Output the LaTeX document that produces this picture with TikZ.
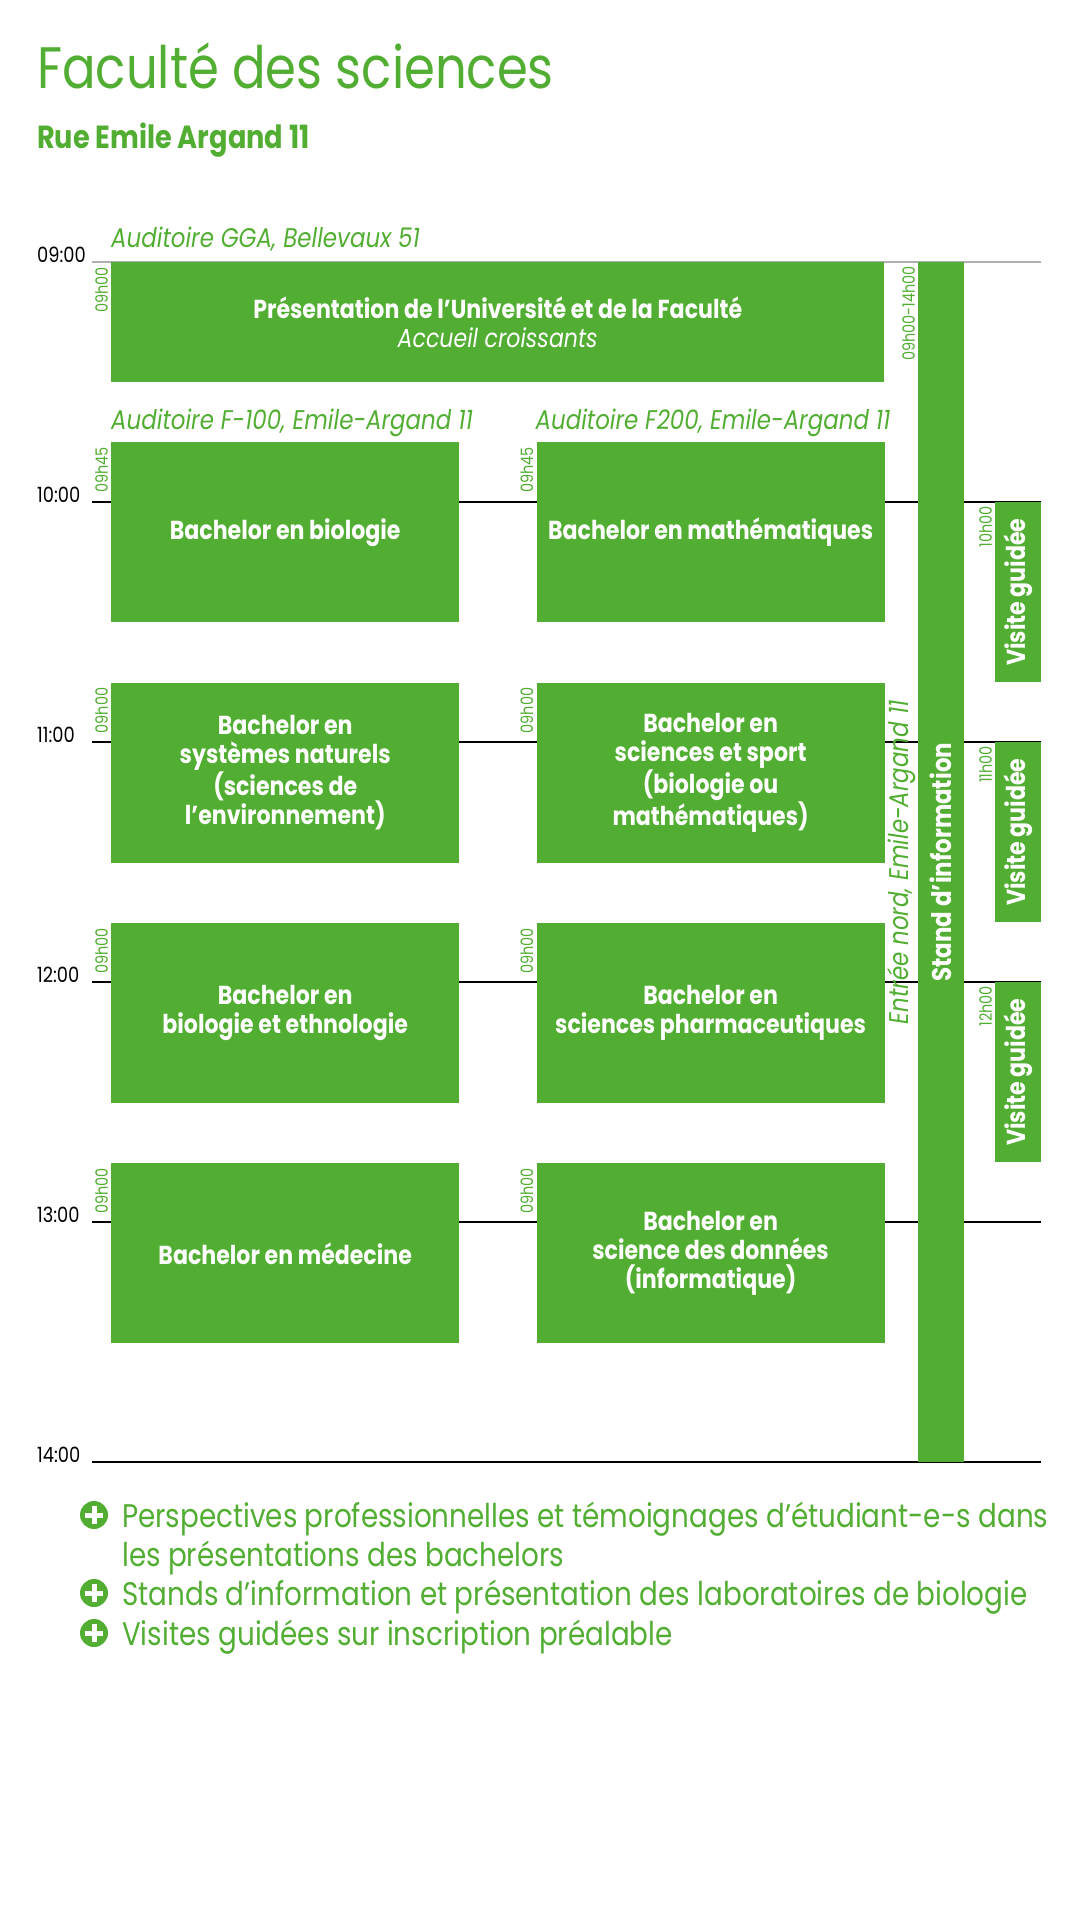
\documentclass[tikz,border=0pt]{standalone}
\usepackage{fontspec}
\setmainfont{Poppins}[FakeStretch=0.85]
\usetikzlibrary{positioning}
\definecolor{uniclr}{RGB}{82,174,50}
\definecolor{gridclr}{RGB}{175,175,175}
\tikzset{ %
  ,x=1pt, y=-1pt
  ,box/.style={fill=uniclr, text=white, inner sep=0, anchor=north west, align=center, font=\fontsize{26}{29.4}\selectfont\bfseries}
  ,half/.style={box, minimum width=348, minimum height=180}
  ,bar/.style={box, rotate=90, anchor=north east, minimum height=46}
  ,stamp/.style={rotate=90, anchor=south east, inner sep=0, text=uniclr, font=\fontsize{17}{17}\selectfont}
  ,room/.style={inner sep=0, text=uniclr, font=\fontsize{27}{27}\selectfont\itshape}
  ,hour/.style={anchor=base west, inner sep=0, font=\fontsize{21}{21}\selectfont}
  ,note/.style={anchor=base west, inner sep=0, text=uniclr, align=left, font=\fontsize{32.7}{39}\selectfont}
  ,plus/.style={circle, fill=uniclr, minimum size=28, inner sep=0, path picture={
      \draw[white, line width=5pt] ([xshift=-9pt]path picture bounding box.center) -- ([xshift=9pt]path picture bounding box.center)
        ([yshift=-9pt]path picture bounding box.center) -- ([yshift=9pt]path picture bounding box.center);}}
}
\begin{document}
\begin{tikzpicture}
  \useasboundingbox (0,0) rectangle (1080,1920);
  \node[anchor=base west, inner sep=0, text=uniclr, font=\fontsize{58.5}{60}\selectfont] (title) at (37,88) {Faculté des sciences};
  \node[anchor=base west, inner sep=0, text=uniclr, font=\fontsize{32}{32}\selectfont\bfseries] (street) at (37,148) {Rue Emile Argand 11};
  \foreach \lbl/\y/\c in {09:00/262/gridclr, 10:00/502/black, 11:00/742/black, 12:00/982/black, 13:00/1222/black, 14:00/1462/black}{
    \draw[\c, line width=1.2pt] (92,\y) -- (1041,\y);
    \node[hour] at (37,\y) {\lbl};
  }
  \node[box, minimum width=773, minimum height=120] (intro) at (111,262) {Présentation de l’Université et de la Faculté\\{\mdseries\itshape Accueil croissants}};
  \node[half] (bio) at (111,442) {Bachelor en biologie};
  \node[half, right=77pt of bio] (math) {Bachelor en mathématiques};
  \node[half, below=60pt of bio] (envi) {Bachelor en\\systèmes naturels\\(sciences de\\l’environnement)};
  \node[half, right=77pt of envi] (sport) {Bachelor en\\sciences et sport\\(biologie ou\\mathématiques)};
  \node[half, below=60pt of envi] (ethno) {Bachelor en\\biologie et ethnologie};
  \node[half, right=77pt of ethno] (pharma) {Bachelor en\\sciences pharmaceutiques};
  \node[half, below=60pt of ethno] (med) {Bachelor en médecine};
  \node[half, right=77pt of med] (data) {Bachelor en\\science des données\\(informatique)};
  \node[bar, minimum width=1200, font=\fontsize{27}{27}\selectfont\bfseries] (stand) at (918,262) {Stand d’information};
  \node[bar, minimum width=180] (tour1) at (995,502) {Visite guidée};
  \node[bar, minimum width=180] (tour2) at (995,742) {Visite guidée};
  \node[bar, minimum width=180] (tour3) at (995,982) {Visite guidée};
  \foreach \n/\s in {intro/09h00, bio/09h45, math/09h45, envi/09h00, sport/09h00, ethno/09h00, pharma/09h00, med/09h00, data/09h00}
    \node[stamp] at ([xshift=-3pt,yshift=-5pt]\n.north west) {\s};
  \foreach \n/\s in {stand/09h00-14h00, tour1/10h00, tour2/11h00, tour3/12h00}
    \node[stamp] at ([xshift=-3pt,yshift=-4pt]\n.north east) {\s};
  \node[room, anchor=base west] at ([yshift=15pt]intro.north west) {Auditoire GGA, Bellevaux 51};
  \node[room, anchor=base west] at ([yshift=13pt]bio.north west) {Auditoire F-100, Emile-Argand 11};
  \node[room, anchor=base west] at ([xshift=-1pt,yshift=13pt]math.north west) {Auditoire F200, Emile-Argand 11};
  \node[room, rotate=90, anchor=south] at ([xshift=-2pt]stand.north) {Entrée nord, Emile-Argand 11};
  \node[note] (n1) at (122,1566) {Perspectives professionnelles et témoignages d’étudiant-e-s dans\\les présentations des bachelors};
  \node[note] (n2) at (122,1605) {Stands d’information et présentation des laboratoires de biologie};
  \node[note] (n3) at (122,1645) {Visites guidées sur inscription préalable};
  \foreach \n/\d in {n1/51, n2/12, n3/12}
    \node[plus] at ([xshift=-28pt,yshift=\d pt]\n.base west) {};
\end{tikzpicture}
\end{document}
